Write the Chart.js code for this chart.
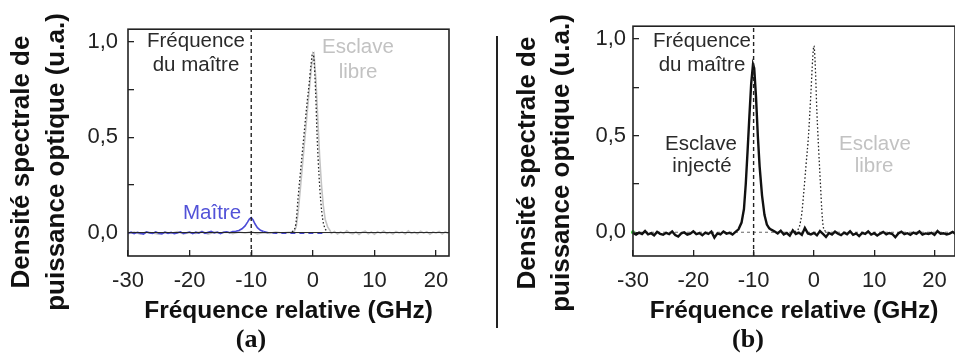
<!DOCTYPE html>
<html>
<head>
<meta charset="utf-8">
<script src="https://cdn.jsdelivr.net/npm/chart.js@4.4.1/dist/chart.umd.min.js"></script>
<style>
  html, body { margin: 0; padding: 0; background: #fff; overflow: hidden; }
  #wrap { position: relative; width: 955px; height: 354px; overflow: hidden; }
  canvas { position: absolute; top: 0; }
  #chartA { left: 0; }
  #chartB { left: 505px; }
  .divider { position: absolute; left: 496px; top: 36px; width: 2px; height: 292px; background: #222; }
</style>
</head>
<body>
<div id="wrap">
  <canvas id="chartA" width="470" height="354"></canvas>
  <div class="divider"></div>
  <canvas id="chartB" width="460" height="354"></canvas>
</div>
<script>
// axis ticks (GHz and a.u.)
const freqTicks = [-30, -20, -10, 0, 10, 20];
const levelTicks = [0, 0.25, 0.5, 0.75, 1];
const masterFreq = -10;

// (a) master laser spectrum, blue
const maitreFreq = [
  -30, -29.5, -29, -28.5, -28, -27.5, -27, -26.5, -26, -25.5,
  -25, -24.5, -24, -23.5, -23, -22.5, -22, -21.5, -21, -20.5,
  -20, -19.5, -19, -18.5, -18, -17.5, -17, -16.5, -16, -15.5,
  -15, -14.5, -14, -13.5, -13, -12.5, -12,
  -11.5, -11, -10.6, -10.3, -10, -9.7, -9.4, -9, -8.5, -8,
  -7, -6, -5, -4, -3, -2, -1, 0, 1, 2
];
const maitreLevel = [
  -0.004, 0.002, -0.006, 0.001, -0.003, -0.008, 0.003, -0.002, -0.005, 0.004,
  -0.003, -0.007, 0.002, -0.004, 0.001, -0.006, -0.002, 0.004, -0.005, -0.001,
  0.003, -0.006, 0.002, -0.003, 0.005, -0.004, 0.001, 0.006, -0.002, 0.003,
  -0.005, 0.002, 0.004, -0.001, 0.005, 0.007, 0.011,
  0.02, 0.035, 0.055, 0.071, 0.078, 0.066, 0.046, 0.026, 0.012, 0.005,
  -0.002, -0.003, -0.004, -0.003, -0.004, -0.003, -0.004, -0.003, -0.004, -0.003
];

// (a) free slave, measured trace (light grey)
const libreFreqA = [
  -30, -29, -28, -27, -26, -25, -24, -23, -22, -21,
  -20, -19, -18, -17, -16, -15, -14, -13, -12, -11,
  -10, -9, -8, -7, -6, -5, -4,
  -3.4, -3, -2.7, -2.4, -2, -1.5, -1, -0.6, -0.2, 0.2,
  0.5, 0.8, 1.1, 1.4, 1.7, 2, 2.4, 2.8,
  3, 3.5, 4, 4.5, 5, 5.5, 6, 6.5, 7, 7.5,
  8, 8.5, 9, 9.5, 10, 10.5, 11, 11.5, 12, 12.5,
  13, 13.5, 14, 14.5, 15, 15.5, 16, 16.5, 17, 17.5,
  18, 18.5, 19, 19.5, 20, 20.5, 21, 21.5, 22
];
const libreLevelA = [
  -0.006, 0.003, -0.008, 0.004, -0.002, -0.009, 0.002, -0.005, 0.005, -0.007,
  0.001, -0.004, 0.006, -0.008, 0.002, -0.003, 0.004, -0.006, 0.003, -0.002,
  0.005, -0.007, 0.001, -0.004, 0.003, -0.002, 0.001,
  0.002, 0.008, 0.03, 0.1, 0.24, 0.42, 0.6, 0.74, 0.88, 0.93,
  0.8, 0.6, 0.4, 0.25, 0.14, 0.07, 0.03, 0.01,
  -0.004, 0.006, -0.008, 0.003, -0.005, 0.009, -0.002, -0.007, 0.004, -0.01,
  0.002, 0.007, -0.006, 0.003, -0.009, 0.005, -0.003, 0.008, -0.005, 0.001,
  -0.008, 0.006, -0.002, 0.004, -0.007, 0.009, -0.004, 0.002, -0.006, 0.007,
  -0.003, 0.005, -0.009, 0.003, -0.002, 0.006, -0.007, 0.004, -0.005
];

// (a) free slave, dotted profile
const profilFreqA = [-3.4, -3, -2.7, -2.4, -2, -1.5, -1, -0.6, -0.3, 0, 0.2, 0.45, 0.7, 1, 1.3, 1.6, 2, 2.4];
const profilLevelA = [0.005, 0.015, 0.06, 0.18, 0.32, 0.49, 0.66, 0.78, 0.88, 0.945, 0.9, 0.74, 0.5, 0.3, 0.16, 0.07, 0.02, 0.005];

// (b) injected slave, thick black
const injecteFreq = [
  -30, -29.5, -29, -28.5, -28, -27.5, -27, -26.5, -26, -25.5,
  -25, -24.5, -24, -23.5, -23, -22.5, -22, -21.5, -21, -20.5,
  -20, -19.5, -19, -18.5, -18, -17.5, -17, -16.5, -16, -15.5,
  -15, -14.5, -14, -13.5, -13,
  -12.5, -12, -11.6, -11.3, -11, -10.7, -10.4, -10.1, -9.9, -9.6,
  -9.3, -9, -8.6, -8.2, -7.8, -7.4,
  -7, -6.5, -6, -5.5, -5, -4.5, -4, -3.5, -3, -2.5,
  -2, -1.5, -1, -0.5, 0, 0.5, 1, 1.5, 2, 2.5,
  3, 3.5, 4, 4.5, 5, 5.5, 6, 6.5, 7, 7.5,
  8, 8.5, 9, 9.5, 10, 10.5, 11, 11.5, 12, 12.5,
  13, 13.5, 14, 14.5, 15, 15.5, 16, 16.5, 17, 17.5,
  18, 18.5, 19, 19.5, 20, 20.5, 21, 21.5, 22, 22.5,
  23, 23.5
];
const injecteLevel = [
  -0.004, -0.012, -0.002, -0.009, 0.006, -0.011, -0.005, -0.016, 0.002, -0.008,
  -0.013, -0.003, -0.010, 0.004, -0.014, -0.022, -0.006, -0.001, -0.012, -0.007,
  0.005, -0.010, -0.004, -0.015, -0.002, -0.009, 0.003, -0.028, -0.006, -0.011,
  0.004, -0.007, -0.003, -0.012, 0.002,
  0.015, 0.05, 0.12, 0.25, 0.42, 0.6, 0.77, 0.87, 0.85, 0.7,
  0.5, 0.34, 0.19, 0.09, 0.04, 0.02,
  0.012, 0.004, -0.006, 0.008, -0.012, -0.004, -0.018, 0.010, -0.009, -0.002,
  -0.014, 0.022, -0.006, -0.011, -0.003, -0.016, 0.006, -0.009, -0.024, -0.004,
  -0.012, 0.003, -0.008, -0.015, -0.002, -0.010, 0.005, -0.013, -0.006, -0.020,
  -0.003, -0.009, 0.004, -0.012, -0.005, -0.017, -0.007, 0.002, -0.011, -0.004,
  -0.009, -0.026, -0.006, 0.003, -0.010, -0.005, -0.013, -0.002, -0.008, 0.004,
  -0.012, -0.006, -0.009, -0.003, -0.014, 0.006, -0.008, -0.005, -0.011, -0.007,
  0.002, -0.009
];

// (b) free slave, dotted profile
const profilFreqB = [-3.2, -2.8, -2.4, -2, -1.7, -1.3, -0.9, -0.5, -0.2, 0, 0.2, 0.5, 0.8, 1.1, 1.3, 1.5, 1.8, 2.2];
const profilLevelB = [0.003, 0.01, 0.03, 0.1, 0.2, 0.35, 0.5, 0.72, 0.9, 0.965, 0.88, 0.62, 0.42, 0.24, 0.12, 0.04, 0.008, 0.002];

const yMin = -0.123, yMax = 1.067;

Chart.defaults.font.family = '"Liberation Sans", Arial, sans-serif';
Chart.defaults.color = '#222';

const pts = (xs, ys) => xs.map((x, i) => ({x: x, y: ys[i]}));

const panelDecor = {
  id: 'panelDecor',
  afterDatasetsDraw(chart, args, opts) {
    const {ctx, chartArea: a} = chart;
    ctx.save();
    ctx.strokeStyle = '#222';
    ctx.lineWidth = 1.6;
    ctx.strokeRect(a.left, a.top, a.right - a.left, a.bottom - a.top);

    ctx.textAlign = 'center';
    ctx.textBaseline = 'alphabetic';
    opts.notes.forEach(n => {
      ctx.font = n.font || '20.5px "Liberation Sans"';
      ctx.fillStyle = n.color;
      ctx.fillText(n.text, n.x, n.y);
    });

    ctx.font = 'bold 26px "Liberation Sans"';
    ctx.fillStyle = '#111';
    ctx.textBaseline = 'middle';
    opts.yTitle.forEach((line, i) => {
      ctx.save();
      ctx.translate(opts.yTitleX[i], opts.yTitleY);
      ctx.rotate(-Math.PI / 2);
      ctx.fillText(line, 0, 0);
      ctx.restore();
    });
    ctx.restore();
  }
};

function makeScales(xMax, yLabelPad) {
  return {
    x: {
      type: 'linear',
      min: -30,
      max: xMax,
      border: {display: false},
      grid: {drawOnChartArea: false, tickLength: -6, color: '#222', lineWidth: 1.3},
      afterBuildTicks: s => { s.ticks = freqTicks.map(v => ({value: v})); },
      afterFit: s => { s.height = 98; },
      ticks: {font: {size: 22}, color: '#222', padding: 18, maxRotation: 0},
      title: {
        display: true,
        text: 'Fréquence relative (GHz)',
        font: {size: 24.5, weight: 'bold'},
        color: '#111',
        padding: {top: 0, bottom: 28}
      }
    },
    y: {
      type: 'linear',
      min: yMin,
      max: yMax,
      border: {display: false},
      grid: {drawOnChartArea: false, tickLength: -6, color: '#222', lineWidth: 1.3},
      afterBuildTicks: s => { s.ticks = levelTicks.map(v => ({value: v})); },
      afterFit: s => { s.width = 128; },
      ticks: {
        font: {size: 22},
        color: '#222',
        padding: yLabelPad,
        callback: v => (v * 2) % 1 === 0 ? v.toFixed(1).replace('.', ',') : ''
      }
    }
  };
}

const yTitle = ['Densité spectrale de', 'puissance optique (u.a.)'];

const lineBase = {pointRadius: 0, fill: false, tension: 0};

// panel (a)
new Chart(document.getElementById('chartA'), {
  type: 'line',
  data: {
    datasets: [
      Object.assign({}, lineBase, {
        label: 'Fréquence du maître',
        data: [{x: masterFreq, y: yMin}, {x: masterFreq, y: yMax}],
        borderColor: '#222', borderWidth: 1.4, borderDash: [4, 3], order: 0
      }),
      Object.assign({}, lineBase, {
        label: 'Esclave libre (profil)',
        data: pts(profilFreqA, profilLevelA),
        borderColor: '#222', borderWidth: 1.3, borderDash: [1.5, 2.2],
        cubicInterpolationMode: 'monotone', order: 1
      }),
      Object.assign({}, lineBase, {
        label: 'zéro',
        data: [{x: -30, y: 0}, {x: 22.2, y: 0}],
        borderColor: '#222', borderWidth: 1, order: 2
      }),
      Object.assign({}, lineBase, {
        label: 'Maître',
        data: pts(maitreFreq, maitreLevel),
        borderColor: '#4a4ad6', borderWidth: 1.6, order: 3,
        segment: {borderDash: c => c.p0.parsed.x >= -8 ? [5, 4] : undefined}
      }),
      Object.assign({}, lineBase, {
        label: 'Esclave libre',
        data: pts(libreFreqA, libreLevelA),
        borderColor: '#c4c4c4', borderWidth: 1.6, order: 4
      })
    ]
  },
  options: {
    responsive: false,
    animation: false,
    layout: {padding: {top: 15, right: 21, left: 0, bottom: 0}},
    plugins: {
      legend: {display: false},
      tooltip: {enabled: false},
      panelDecor: {
        yTitle: yTitle,
        yTitleX: [22, 57],
        yTitleY: 162,
        notes: [
          {text: 'Fréquence', x: 196, y: 47, color: '#2a2a2a'},
          {text: 'du maître', x: 196, y: 71, color: '#2a2a2a'},
          {text: 'Esclave', x: 358, y: 53, color: '#c2c2c2'},
          {text: 'libre', x: 358, y: 78, color: '#c2c2c2'},
          {text: 'Maître', x: 212, y: 219, color: '#5252d8'},
          {text: '(a)', x: 251, y: 347, color: '#111', font: 'bold 26px "Liberation Serif"'}
        ]
      }
    },
    scales: makeScales(22.1, 16)
  },
  plugins: [panelDecor]
});

// panel (b)
new Chart(document.getElementById('chartB'), {
  type: 'line',
  data: {
    datasets: [
      Object.assign({}, lineBase, {
        label: 'Fréquence du maître',
        data: [{x: masterFreq, y: yMin}, {x: masterFreq, y: yMax}],
        borderColor: '#222', borderWidth: 1.4, borderDash: [4, 3], order: 0
      }),
      Object.assign({}, lineBase, {
        label: 'Esclave injecté',
        data: pts(injecteFreq, injecteLevel),
        borderColor: '#111', borderWidth: 2.4, order: 1
      }),
      Object.assign({}, lineBase, {
        label: 'zéro',
        data: [{x: -30, y: 0}, {x: 23.4, y: 0}],
        borderColor: '#666', borderWidth: 1, borderDash: [3, 3], order: 2
      }),
      Object.assign({}, lineBase, {
        label: 'Esclave libre',
        data: pts(profilFreqB, profilLevelB),
        borderColor: '#222', borderWidth: 1.3, borderDash: [1.5, 2.2],
        cubicInterpolationMode: 'monotone', order: 3
      }),
      {
        label: 'marqueur',
        data: [{x: -30, y: 0}],
        pointRadius: 2, pointBackgroundColor: '#3c3', pointBorderWidth: 0,
        showLine: false, clip: false, order: 4
      }
    ]
  },
  options: {
    responsive: false,
    animation: false,
    layout: {padding: {top: 15, right: 0, left: 0, bottom: 0}},
    plugins: {
      legend: {display: false},
      tooltip: {enabled: false},
      panelDecor: {
        yTitle: yTitle,
        yTitleX: [23, 57],
        yTitleY: 163,
        notes: [
          {text: 'Fréquence', x: 197, y: 47, color: '#2a2a2a'},
          {text: 'du maître', x: 197, y: 71, color: '#2a2a2a'},
          {text: 'Esclave', x: 196, y: 150, color: '#2a2a2a'},
          {text: 'injecté', x: 197, y: 172, color: '#2a2a2a'},
          {text: 'Esclave', x: 370, y: 150, color: '#c2c2c2'},
          {text: 'libre', x: 369, y: 172, color: '#c2c2c2'},
          {text: '(b)', x: 243, y: 347, color: '#111', font: 'bold 26px "Liberation Serif"'}
        ]
      }
    },
    scales: makeScales(23.4, 13)
  },
  plugins: [panelDecor]
});
</script>
</body>
</html>
